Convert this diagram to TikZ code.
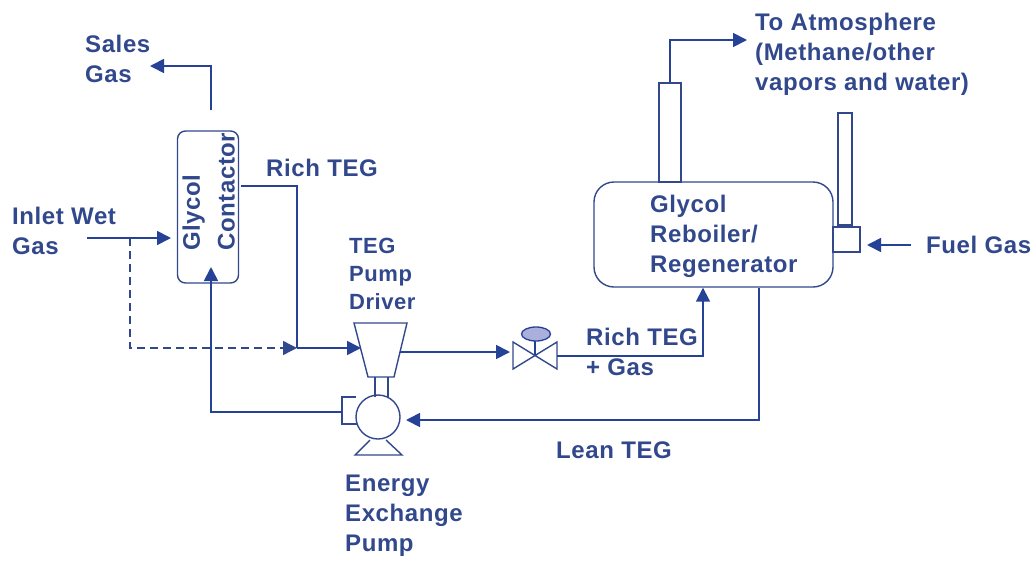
\documentclass[tikz,border=0pt]{standalone}
\usepackage{fontspec}
\setmainfont[LetterSpace=2.5]{Liberation Sans}
\usetikzlibrary{arrows.meta,shapes.geometric}
\definecolor{flow}{RGB}{38,66,150}
\definecolor{ink}{RGB}{50,72,140}
\definecolor{act}{RGB}{170,175,220}
\tikzset{
 x=1pt,y=-1pt,
 pipe/.style={draw=flow,line width=1.7pt},
 tipped/.style={pipe,-{Triangle[length=14pt,width=14pt]}},
 equip/.style={draw=ink,line width=1.4pt,fill=white},
 lab/.style={text=ink,font=\fontsize{24}{30}\selectfont\bfseries,align=left,anchor=north west,inner sep=0pt},
}
\begin{document}
\begin{tikzpicture}
\useasboundingbox (0,0) rectangle (1036,560);
% coordinates
\coordinate (salesA) at (211,110);
\coordinate (salesB) at (150,66);
\coordinate (inletA) at (87,238);
\coordinate (inletB) at (130,238);
\coordinate (junction) at (297,348);
% equipment
\node[equip,rounded corners=8pt,minimum width=61pt,minimum height=152pt,inner sep=0pt] (contactor) at (208,207) {};
\node[equip,rounded corners=20pt,minimum width=239pt,minimum height=105pt,inner sep=0pt] (reboiler) at (713.5,234.5) {};
\node[equip,minimum width=22pt,minimum height=99pt,inner sep=0pt] (stack) at (670,132.5) {};
\node[equip,minimum width=14pt,minimum height=112pt,inner sep=0pt] (flue) at (845,169) {};
\node[equip,minimum width=27pt,minimum height=25pt,inner sep=0pt] (firebox) at (846.5,239.5) {};
\node[equip,circle,minimum size=44pt,inner sep=0pt] (pump) at (378,417) {};
\coordinate (driverL) at (361,348);
\coordinate (driverR) at (400,352);
\coordinate (pumpIn) at (342,412);
\coordinate (valveIn) at (510,352);
\coordinate (valveOut) at (557,356);
% pump driver, shaft, casing, feet
\draw[equip] (354,323) -- (407,323) -- (394,377) -- (368,377) -- cycle;
\draw[equip] (375,377) -- (375,397) (388,377) -- (388,397);
\draw[equip,fill=none] (356,397) -- (342,397) -- (342,424) -- (357,424);
\draw[equip,fill=none] (370,440) -- (355,455) -- (402,455) -- (386,440);
% valve
\draw[equip,fill=none] (513,342) -- (557,369) -- (557,342) -- (513,369) -- cycle;
\draw[pipe] (535,355) -- (535,341);
\node[draw=flow,line width=1.3pt,fill=act,ellipse,minimum width=29pt,minimum height=14pt,inner sep=0pt] (actuator) at (536,334) {};
% text
\node[lab] (tSales) at (85,35) {Sales\\[0pt]Gas};
\node[lab] (tInlet) at (12,207) {Inlet Wet\\[0pt]Gas};
\node[lab] (tRich) at (266,159) {Rich TEG};
\node[lab,font=\fontsize{22}{28}\selectfont\bfseries] (tDriver) at (349,238) {TEG\\Pump\\Driver};
\node[lab] (tEnergy) at (345,475) {Energy\\Exchange\\Pump};
\node[lab] (tRichGas) at (586,328) {Rich TEG\\[0pt]+ Gas};
\node[lab] (tLean) at (556,442) {Lean TEG};
\node[lab] (tFuel) at (926,236) {Fuel Gas};
\node[lab] (tAtm) at (755,13) {To Atmosphere\\(Methane/other\\vapors and water)};
\node[lab] (tReb) at (650,195) {Glycol\\Reboiler/\\Regenerator};
\node[lab,rotate=90,anchor=south west] (tGly) at (205,251) {Glycol};
\node[lab,rotate=90,anchor=south west] (tCon) at (235,251) {Contactor};
% connectors
\draw[tipped] (salesA) |- (salesB);
\draw[tipped] (inletA) -- (171,238);
\draw[draw=ink,line width=1.4pt,dash pattern=on 8pt off 5pt,-{Triangle[length=14pt,width=14pt]}] (inletB) -- (130,348) -- (junction);
\draw[pipe] (241,186) -| (junction);
\draw[tipped] (junction) -- (driverL);
\draw[tipped] (driverR) -- (valveIn);
\draw[tipped] (valveOut) -| (reboiler.south -| 703,0);
\draw[tipped] (reboiler.south -| 759,0) |- (406,420);
\draw[tipped] (pumpIn) -| (211,267);
\draw[tipped] (stack.north) |- (747,40);
\draw[tipped] (911,245) -- (867,245);
\end{tikzpicture}
\end{document}
